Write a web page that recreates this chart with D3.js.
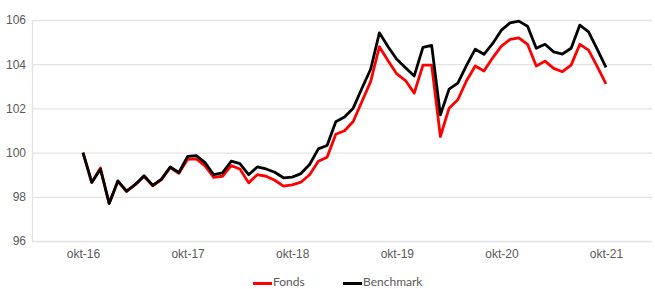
<!DOCTYPE html>
<html>
<head>
<meta charset="utf-8">
<script src="https://cdn.jsdelivr.net/npm/d3@7"></script>
<style>
  body { margin: 0; background: #fff; }
  svg { display: block; font-family: Lato, "Open Sans", sans-serif; }
  .tick text { fill: #595959; font-size: 12px; }
</style>
</head>
<body>
<script>
// monthly index values, okt-16 .. okt-21
const fonds = [100.0, 98.65, 99.3, 97.7, 98.7, 98.24, 98.55, 98.92, 98.5, 98.78,
  99.32, 99.06, 99.7, 99.72, 99.4, 98.88, 98.93, 99.41, 99.26, 98.63,
  99.0, 98.93, 98.75, 98.48, 98.54, 98.66, 99.0, 99.61, 99.79, 100.83,
  100.99, 101.41, 102.31, 103.21, 104.79, 104.16, 103.56, 103.26, 102.69, 103.96,
  103.96, 100.73, 102.01, 102.39, 103.25, 103.92, 103.69, 104.29, 104.82, 105.12,
  105.19, 104.9, 103.92, 104.14, 103.81, 103.66, 103.96, 104.9, 104.64, 103.89, 103.11];
const benchmark = [100.0, 98.65, 99.25, 97.7, 98.72, 98.26, 98.56, 98.95, 98.52, 98.8,
  99.35, 99.1, 99.83, 99.86, 99.55, 99.0, 99.08, 99.61, 99.5, 99.0,
  99.35, 99.26, 99.11, 98.86, 98.89, 99.05, 99.46, 100.17, 100.32, 101.4,
  101.61, 102.01, 102.91, 103.77, 105.42, 104.79, 104.22, 103.84, 103.47, 104.76,
  104.85, 101.71, 102.87, 103.14, 103.95, 104.68, 104.45, 104.94, 105.54, 105.87,
  105.95, 105.72, 104.72, 104.9, 104.56, 104.46, 104.72, 105.77, 105.46, 104.67, 103.86];
const xTickIdx = [0, 12, 24, 36, 48, 60];
const xTickLabels = ['okt-16', 'okt-17', 'okt-18', 'okt-19', 'okt-20', 'okt-21'];
const yTicks = [96, 98, 100, 102, 104, 106];
const seriesNames = ['Fonds', 'Benchmark'];
const seriesColors = ['#ff0000', '#000000'];

const width = 655, height = 289;
const plotLeft = 32, plotRight = 652, plotTop = 20, plotBottom = 241;

const svg = d3.select('body').append('svg')
  .attr('width', width)
  .attr('height', height);

const x = d3.scaleLinear().domain([0, 60]).range([83, 606]);
const y = d3.scaleLinear().domain([96, 106]).range([plotBottom, plotTop]);

// gridlines
svg.append('g')
  .selectAll('line')
  .data(yTicks)
  .join('line')
  .attr('x1', plotLeft)
  .attr('x2', plotRight)
  .attr('y1', d => y(d) + 0.5)
  .attr('y2', d => y(d) + 0.5)
  .attr('stroke', '#e3e3e3')
  .attr('stroke-width', 1.3);

// left axis line
svg.append('line')
  .attr('x1', plotLeft + 0.5).attr('x2', plotLeft + 0.5)
  .attr('y1', plotTop).attr('y2', plotBottom + 1)
  .attr('stroke', '#e3e3e3')
  .attr('stroke-width', 1.3);

// y axis labels
const yAxis = svg.append('g')
  .attr('transform', `translate(${plotLeft - 6},0)`)
  .call(d3.axisLeft(y).tickValues(yTicks).tickSize(0).tickPadding(0));
yAxis.select('.domain').remove();

// x axis labels
const xAxis = svg.append('g')
  .attr('transform', `translate(0,${plotBottom + 8})`)
  .call(d3.axisBottom(x).tickValues(xTickIdx)
    .tickFormat((d, i) => xTickLabels[i]).tickSize(0).tickPadding(0));
xAxis.select('.domain').remove();

const line = d3.line()
  .x((d, i) => x(i))
  .y(d => y(d));

[fonds, benchmark].forEach((s, k) => {
  svg.append('path')
    .datum(s)
    .attr('fill', 'none')
    .attr('stroke', seriesColors[k])
    .attr('stroke-width', 2.8)
    .attr('stroke-linejoin', 'round')
    .attr('d', line);
});

// legend
const legendX = [253, 343];
const legend = svg.append('g');
seriesNames.forEach((name, k) => {
  legend.append('line')
    .attr('x1', legendX[k]).attr('x2', legendX[k] + 19)
    .attr('y1', 283.5).attr('y2', 283.5)
    .attr('stroke', seriesColors[k])
    .attr('stroke-width', 3);
  legend.append('text')
    .attr('x', legendX[k] + 20)
    .attr('y', 286)
    .attr('fill', '#595959')
    .attr('font-size', 12)
    .text(name);
});
</script>
</body>
</html>
